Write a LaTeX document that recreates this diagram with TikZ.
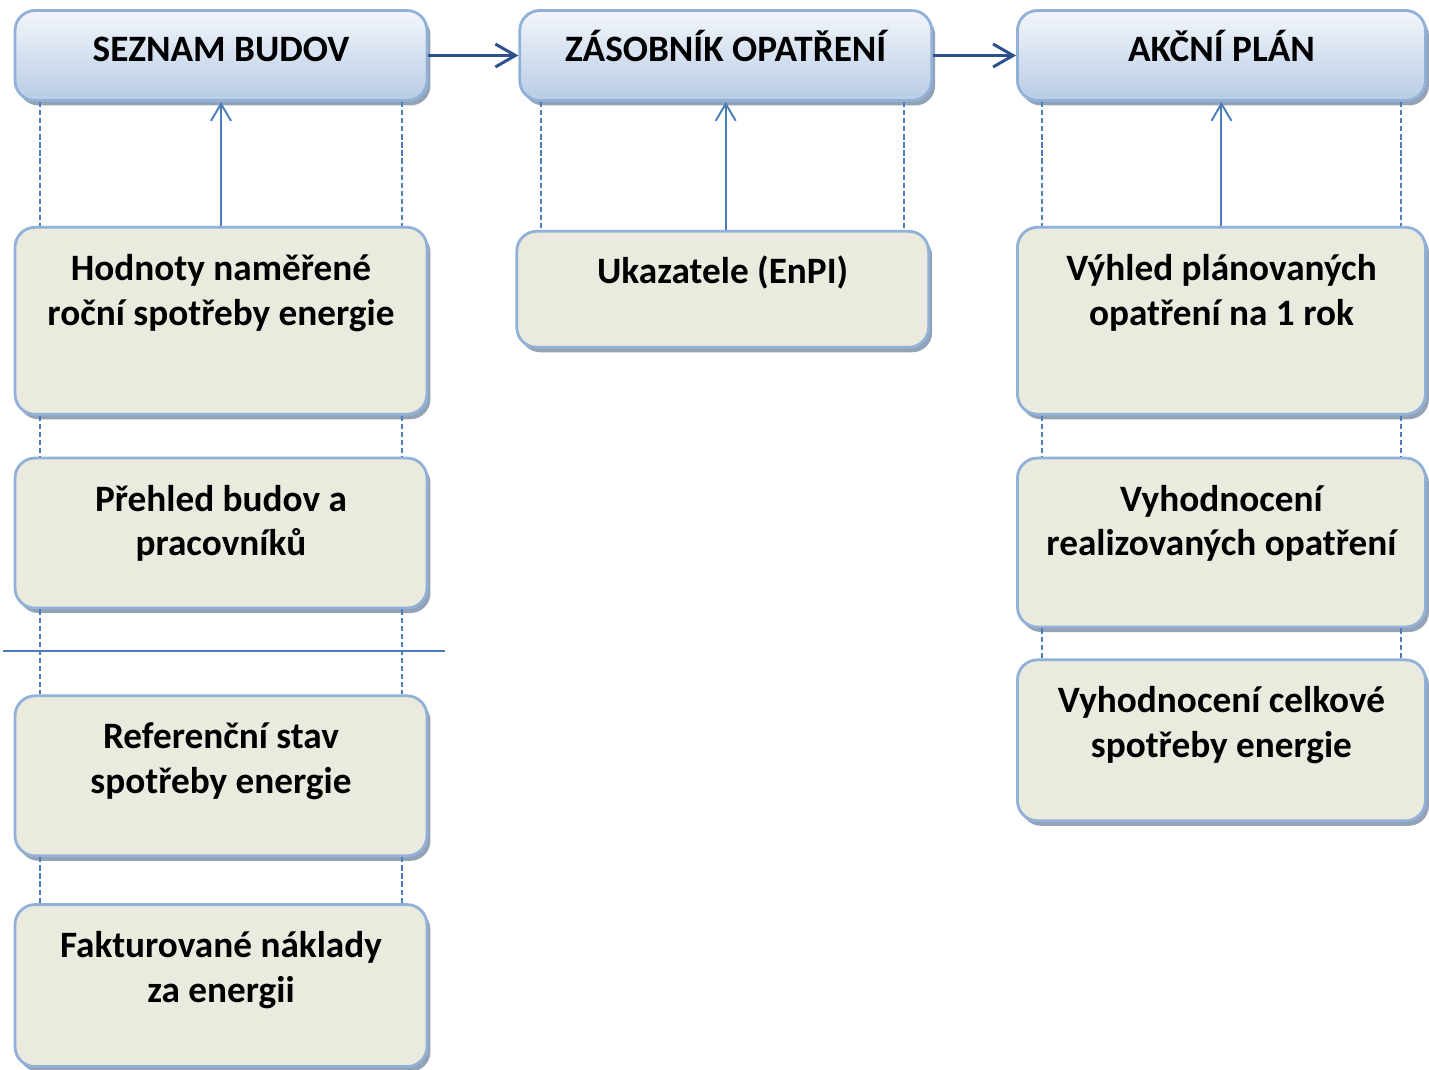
\documentclass[tikz,border=0pt]{standalone}
\usepackage{fontspec}
\setmainfont{Carlito}
\usetikzlibrary{arrows.meta, positioning, shadows}
\definecolor{hdtop}{RGB}{243,246,251}
\definecolor{hdbot}{RGB}{184,204,229}
\definecolor{frame}{RGB}{146,177,216}
\definecolor{boxfill}{RGB}{235,234,222}
\definecolor{shade}{RGB}{148,162,181}
\definecolor{linkblue}{RGB}{74,126,187}
\definecolor{flowblue}{RGB}{44,80,140}
\newcommand{\hdfont}{\fontsize{21.2}{25.5}\selectfont\bfseries}
\newcommand{\boxfont}{\fontsize{21.2}{25.5}\selectfont\bfseries}

\begin{document}
\begin{tikzpicture}[
  x=0.02cm, y=-0.02cm,
  hbox/.style={rectangle, rounded corners=0.4cm, draw=frame, line width=1.6pt,
               top color=hdtop, bottom color=hdbot, minimum width=8.24cm, minimum height=1.8cm,
               font=\hdfont, text height=0.5cm, text depth=0.28cm,
               drop shadow={shadow xshift=0.07cm, shadow yshift=-0.1cm, fill=shade, opacity=1}},
  cbox/.style={rectangle, rounded corners=0.4cm, draw=frame, line width=1.6pt,
               fill=boxfill, minimum width=8.24cm,
               drop shadow={shadow xshift=0.07cm, shadow yshift=-0.1cm, fill=shade, opacity=1}},
  ctxt/.style={font=\boxfont, align=center, inner sep=0pt, execute at begin node=\strut},
  dline/.style={linkblue, line width=1pt, dash pattern=on 3pt off 1.6pt},
  uparr/.style={-{Straight Barb[length=0.34cm, width=0.4cm]}, linkblue, line width=1.1pt},
  flow/.style={-{Straight Barb[length=0.4cm, width=0.46cm]}, flowblue, line width=1.7pt},
  sepline/.style={linkblue, line width=0.8pt}
]
\useasboundingbox (0,0) rectangle (1429,1069);

% headers
\node[hbox] (sez) at (221,55.5) {SEZNAM BUDOV};
\node[hbox, right=1.8cm of sez] (zas) {ZÁSOBNÍK OPATŘENÍ};
\node[hbox, right=1.66cm of zas, minimum width=8.16cm] (akc) {AKČNÍ PLÁN};
\draw[flow] (sez) -- (zas);
\draw[flow] (zas) -- (akc);

% left column
\node[cbox, below=2.48cm of sez, minimum height=3.74cm] (hod) {};
\node[cbox, below=0.82cm of hod, minimum height=3.0cm] (pre) {};
\node[cbox, below=1.7cm of pre, minimum height=3.2cm] (ref) {};
\node[cbox, below=0.92cm of ref, minimum height=3.24cm] (fak) {};
\node[ctxt, below=0.56cm of hod.north] (hodt) {Hodnoty naměřené\\roční spotřeby energie};
\node[ctxt, below=0.56cm of pre.north] (pret) {Přehled budov a\\pracovníků};
\node[ctxt, below=0.56cm of ref.north] (reft) {Referenční stav\\spotřeby energie};
\node[ctxt, below=0.56cm of fak.north] (fakt) {Fakturované náklady\\za energii};

% middle column
\node[cbox, below=2.56cm of zas, xshift=-0.06cm, minimum height=2.32cm] (uka) {};
\node[ctxt, below=0.44cm of uka.north] (ukat) {Ukazatele (EnPI)};

% right column
\node[cbox, below=2.48cm of akc, minimum height=3.74cm, minimum width=8.16cm] (vyh) {};
\node[cbox, below=0.82cm of vyh, minimum height=3.38cm, minimum width=8.16cm] (vyr) {};
\node[cbox, below=0.6cm of vyr, minimum height=3.22cm, minimum width=8.16cm] (vyc) {};
\node[ctxt, below=0.56cm of vyh.north] (vyht) {Výhled plánovaných\\opatření na 1 rok};
\node[ctxt, below=0.56cm of vyr.north] (vyrt) {Vyhodnocení\\realizovaných opatření};
\node[ctxt, below=0.56cm of vyc.north] (vyct) {Vyhodnocení celkové\\spotřeby energie};

% dashed guides
\foreach \a/\b in {sez/hod, hod/pre, pre/ref, ref/fak, akc/vyh, vyh/vyr, vyr/vyc} {
  \draw[dline] ([xshift=0.52cm]\a.south west) -- ([xshift=0.52cm]\b.north west);
  \draw[dline] ([xshift=-0.52cm]\a.south east) -- ([xshift=-0.52cm]\b.north east);
}
\draw[dline] ([xshift=0.52cm]uka.north west |- zas.south) -- ([xshift=0.52cm]uka.north west);
\draw[dline] ([xshift=-0.52cm]uka.north east |- zas.south) -- ([xshift=-0.52cm]uka.north east);

% up arrows
\draw[uparr] (hod) -- (sez);
\draw[uparr] (uka.north -| zas) -- (zas);
\draw[uparr] (vyh) -- (akc);

% separator
\coordinate (sepL) at (3,651);
\coordinate (sepR) at (445,651);
\draw[sepline] (sepL) -- (sepR);

\end{tikzpicture}
\end{document}
